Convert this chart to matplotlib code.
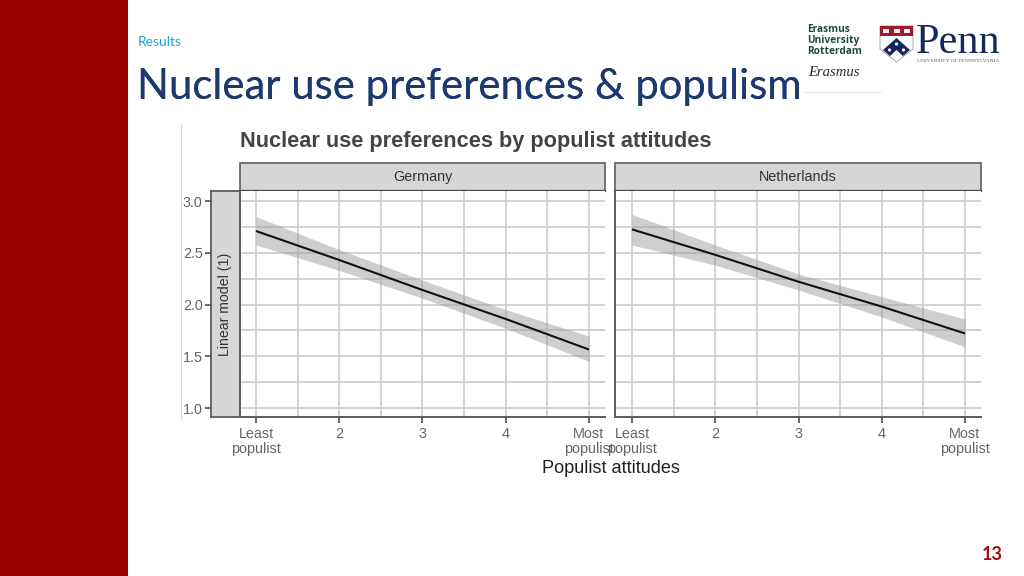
import matplotlib
matplotlib.use("Agg")
import matplotlib.pyplot as plt
from matplotlib.patches import Rectangle, Polygon, Circle

W, H = 1024, 576

x_values = [1, 2, 3, 4, 5]
x_tick_labels = ["Least\npopulist", "2", "3", "4", "Most\npopulist"]
y_ticks = [1.0, 1.5, 2.0, 2.5, 3.0]

germany_fit = [2.71, 2.43, 2.14, 1.86, 1.565]
germany_hi = [2.85, 2.53, 2.235, 1.95, 1.695]
germany_lo = [2.575, 2.33, 2.06, 1.77, 1.45]

netherlands_fit = [2.726, 2.48, 2.22, 1.98, 1.72]
netherlands_hi = [2.87, 2.575, 2.295, 2.075, 1.86]
netherlands_lo = [2.575, 2.38, 2.14, 1.88, 1.59]

panel_names = ["Germany", "Netherlands"]

BORDER = "#5c5c5c"
STRIP = "#d6d6d6"
GRID = "#cfcfcf"
TICKTXT = "#666666"
FONT = "Liberation Sans"

fig = plt.figure(figsize=(W / 100, H / 100), dpi=100, facecolor="white")


def px_axes(left, top, right, bottom, **kw):
    return fig.add_axes([left / W, 1 - bottom / H, (right - left) / W, (bottom - top) / H], **kw)


# slide overlay in pixel coordinates
bg = fig.add_axes([0, 0, 1, 1], zorder=0)
bg.set_xlim(0, W)
bg.set_ylim(H, 0)
bg.axis("off")
bg.add_patch(Rectangle((0, 0), 128, H, color="#990000", lw=0))
bg.text(137.5, 42, "Results", color="#1aa5d8", fontsize=10, family="Lato", va="center")
for dx in (0, 0.4):
    bg.text(137 + dx, 87, "Nuclear use preferences & populism", color="#1c3a6e", fontsize=30.1,
            family="Lato", va="center", ha="left")
bg.text(1003, 555, "13", color="#a01010", fontsize=13, family="Lato", weight="bold", va="center", ha="right")
bg.plot([180.5, 180.5], [124, 420], color="#d9d9d9", lw=0.8)
bg.plot([805, 880], [91.5, 91.5], color="#e4e4e4", lw=0.8)
bg.text(240, 142, "Nuclear use preferences by populist attitudes", fontsize=15.7, weight="bold",
        color="#444444", family=FONT, va="center")
bg.text(610.5, 468.5, "Populist attitudes", fontsize=13.1, color="#222222", family=FONT, va="center", ha="center")

# logos
for yy, word in zip([29, 40, 51], ["Erasmus", "University", "Rotterdam"]):
    bg.text(807, yy, word, fontsize=7.3, weight="bold", color="#1f4a3f", family="Open Sans", va="center")
bg.text(808, 73, "Erasmus", fontsize=10.5, style="italic", color="#2a2a2a", family="Liberation Serif", va="center")
bg.add_patch(Polygon([(880, 26), (913, 26), (913, 49), (896.5, 62), (880, 49)], closed=True,
                     facecolor="white", edgecolor="#999999", lw=0.6))
bg.add_patch(Rectangle((880, 26), 33, 10, color="#9e1b2f", lw=0))
for cx in (886, 896.5, 907):
    bg.add_patch(Rectangle((cx - 3, 29), 6, 4, color="#eeeeee", lw=0))
bg.add_patch(Polygon([(896.5, 38), (910, 50), (903, 56), (896.5, 50), (890, 56), (883, 50)], closed=True,
                     color="#14275f", lw=0))
bg.add_patch(Circle((896.5, 44), 1.6, color="white", lw=0))
bg.add_patch(Circle((889.5, 50), 1.6, color="white", lw=0))
bg.add_patch(Circle((903.5, 50), 1.6, color="white", lw=0))
bg.text(915.5, 43, "Penn", fontsize=30.4, color="#14275f", family="Liberation Serif", va="center")
bg.text(917, 60.5, "UNIVERSITY OF PENNSYLVANIA", fontsize=3.9, color="#555555", family="Liberation Serif", va="center")

panels = [
    (240, 605, 256, 589, germany_fit, germany_hi, germany_lo),
    (615, 981, 632, 965, netherlands_fit, netherlands_hi, netherlands_lo),
]
top, bottom = 191, 417
x_major = x_values
x_minor = [1.5, 2.5, 3.5, 4.5]
y_minor = [1.25, 1.75, 2.25, 2.75]

for i, (left, right, x1, x5, fit, hi, lo) in enumerate(panels):
    ax = px_axes(left, top, right, bottom, zorder=2)
    unit = (x5 - x1) / 4
    ax.set_xlim(1 - (x1 - left) / unit, 5 + (right - x5) / unit)
    ax.set_ylim(1 - (bottom - 408) / 103.5, 3 + (201 - top) / 103.5)
    ax.set_axisbelow(True)
    ax.set_xticks(x_major)
    ax.set_xticklabels(x_tick_labels, fontsize=10.4, color=TICKTXT, family=FONT, linespacing=1.15)
    ax.set_xticks(x_minor, minor=True)
    ax.set_yticks(y_ticks)
    ax.set_yticks(y_minor, minor=True)
    ax.grid(True, which="both", color=GRID, lw=1.3)
    ax.tick_params(axis="x", which="major", length=4, width=1.3, color=BORDER, pad=3)
    ax.tick_params(axis="x", which="minor", length=0)
    ax.tick_params(axis="y", which="minor", length=0)
    ax.fill_between(x_values, lo, hi, color="#9e9e9e", alpha=0.5, lw=0)
    ax.plot(x_values, fit, color="#111111", lw=1.5, solid_capstyle="butt")
    for s in ("top", "right"):
        ax.spines[s].set_visible(False)
    ax.spines["bottom"].set_color(BORDER)
    ax.spines["bottom"].set_linewidth(1.4)
    ax.spines["left"].set_color(BORDER)
    ax.spines["left"].set_linewidth(1.4)
    ax.tick_params(axis="y", which="major", length=0, labelleft=False)
    # facet strip
    bg.add_patch(Rectangle((left, 163), right - left, top - 163, facecolor=STRIP, edgecolor=BORDER, lw=1.2))
    bg.text((left + right) / 2, 177, panel_names[i], fontsize=10.4, color="#333333", family=FONT,
            ha="center", va="center")
    bg.plot([left, right], [top, top], color="#444444", lw=1.6)

# side strip with y tick labels
side = px_axes(211, top, 240, bottom, zorder=1)
side.set_facecolor(STRIP)
side.set_xticks([])
side.set_ylim(1 - (bottom - 408) / 103.5, 3 + (201 - top) / 103.5)
side.set_yticks(y_ticks)
side.set_yticklabels(["%.1f" % v for v in y_ticks], fontsize=10.4, color=TICKTXT, family=FONT)
side.tick_params(axis="y", length=4, width=1.3, color=BORDER, pad=2)
for s in side.spines.values():
    s.set_color(BORDER)
    s.set_linewidth(1.3)
side.text(0.5, 0.5, "Linear model (1)", rotation=90, transform=side.transAxes, fontsize=10.2,
          color="#333333", family=FONT, ha="center", va="center")

fig.savefig("out.png", dpi=100)
